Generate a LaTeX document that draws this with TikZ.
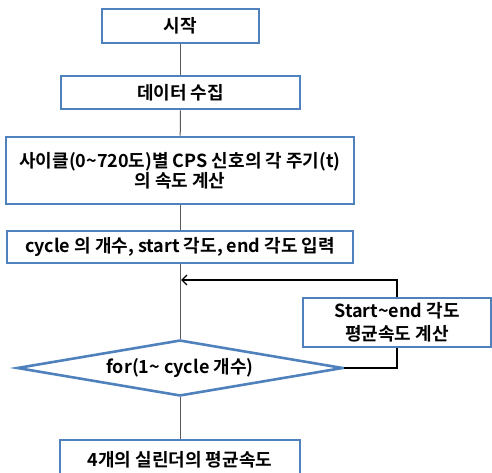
\documentclass[tikz,border=0pt]{standalone}
\usepackage{fontspec}
\setmainfont{Noto Sans CJK KR}[BoldFont={Noto Sans CJK KR Bold}]
\usetikzlibrary{shapes.geometric,arrows.meta}
\definecolor{boxblue}{HTML}{4F81BD}
\definecolor{linegray}{HTML}{595959}
\tikzset{
  stepbox/.style={draw=boxblue, line width=2.6pt, fill=white, inner sep=0pt, align=center, font=\bfseries\fontsize{18}{20}\selectfont},
  conn/.style={draw=linegray, line width=1pt},
  back/.style={draw=black, line width=1.4pt},
}
\begin{document}
\begin{tikzpicture}[x=1pt,y=-1pt]
\useasboundingbox (0,0) rectangle (492,473);
\node[stepbox, minimum width=157pt, minimum height=34pt] (start) at (180.5,26) {시작};
\node[stepbox, minimum width=239pt, minimum height=33pt] (data) at (180.5,92.5) {데이터 수집};
\node[stepbox, minimum width=348pt, minimum height=67pt] (calc) at (180,170.5) {사이클(0\textasciitilde720도)별 CPS 신호의 각 주기(t)\\의 속도 계산};
\node[stepbox, minimum width=346pt, minimum height=32pt] (input) at (180,247) {cycle 의 개수, start 각도, end 각도 입력};
\node[stepbox, minimum width=188pt, minimum height=49pt, font=\bfseries\fontsize{18}{23}\selectfont] (avg) at (397,322.5) {Start\textasciitilde end 각도\\평균속도 계산};
\node[stepbox, diamond, shape aspect=5.8, minimum width=326pt, minimum height=56pt] (loop) at (180,368) {for(1\textasciitilde{} cycle 개수)};
\node[stepbox, minimum width=240pt, minimum height=40pt] (result) at (180,460) {4개의 실린더의 평균속도};
\coordinate (join) at (181,280);
\draw[conn] (start) -- (data);
\draw[conn] (data) -- (calc);
\draw[conn] (calc) -- (input);
\draw[conn] (input) -- (loop);
\draw[conn] (loop) -- (result);
\draw[back] (loop.east) -| (avg.south);
\draw[back, -{Straight Barb[length=5pt,width=10pt]}] (avg.north) |- (join);
\end{tikzpicture}
\end{document}
